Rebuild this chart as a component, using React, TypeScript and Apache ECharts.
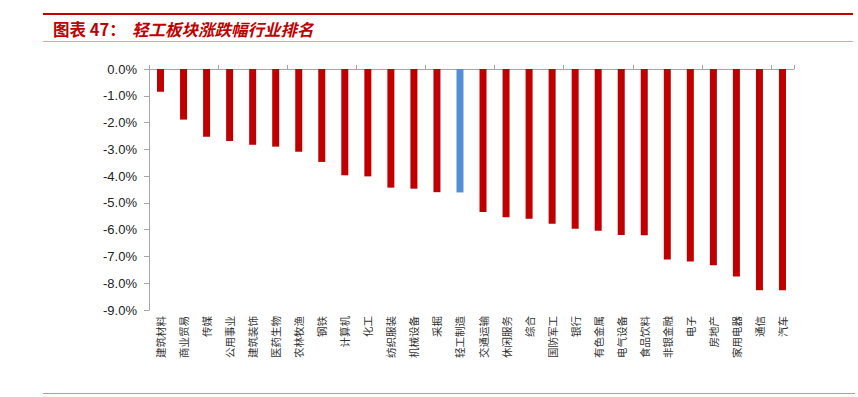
import React, { useEffect, useRef } from "react";
import * as echarts from "echarts";

const categories = [
  "建筑材料", "商业贸易", "传媒", "公用事业", "建筑装饰", "医药生物", "农林牧渔",
  "钢铁", "计算机", "化工", "纺织服装", "机械设备", "采掘", "轻工制造",
  "交通运输", "休闲服务", "综合", "国防军工", "银行", "有色金属", "电气设备",
  "食品饮料", "非银金融", "电子", "房地产", "家用电器", "通信", "汽车",
];

const changes = [
  -0.85, -1.89, -2.53, -2.69, -2.83, -2.9, -3.09,
  -3.47, -3.97, -4.01, -4.43, -4.47, -4.6, -4.61,
  -5.34, -5.54, -5.59, -5.78, -5.97, -6.04, -6.2,
  -6.21, -7.11, -7.19, -7.33, -7.75, -8.26, -8.26,
];

const highlight = "轻工制造";
const titleLabel = "图表 47：";
const titleText = "轻工板块涨跌幅行业排名";

export default function App() {
  const ref = useRef<HTMLDivElement>(null);

  useEffect(() => {
    if (!ref.current) return;
    const chart = echarts.init(ref.current, undefined, { renderer: "svg" });
    const axisColor = "#A6A6A6";
    chart.setOption({
      animation: false,
      backgroundColor: "#ffffff",
      graphic: [
        { type: "rect", shape: { x: 43, y: 13, width: 810, height: 2 }, style: { fill: "#C00000" } },
        { type: "rect", shape: { x: 43, y: 41, width: 810, height: 1 }, style: { fill: "#E8A0A0" } },
        { type: "rect", shape: { x: 43, y: 393, width: 812, height: 1 }, style: { fill: "#D98C8C" } },
        {
          type: "text",
          x: 53,
          y: 29,
          style: {
            text: titleLabel,
            fill: "#C00000",
            font: "bold 16.5px 'Noto Sans CJK SC', sans-serif",
            verticalAlign: "middle",
          },
        },
        {
          type: "text",
          x: 132,
          y: 29,
          style: {
            text: titleText,
            fill: "#C00000",
            font: "italic bold 16.5px 'Noto Sans CJK SC', sans-serif",
            verticalAlign: "middle",
          },
        },
      ],
      grid: { left: 149, top: 69, width: 645, height: 241, containLabel: false },
      xAxis: [
        {
          type: "category",
          position: "top",
          data: categories,
          axisLine: { show: true, onZero: false, lineStyle: { color: axisColor, width: 1 } },
          axisTick: { show: true, length: 4, lineStyle: { color: axisColor } },
          axisLabel: { show: false },
          splitLine: { show: false },
        },
        {
          type: "category",
          position: "bottom",
          data: categories,
          axisLine: { show: false },
          axisTick: { show: false },
          axisLabel: {
            show: true,
            interval: 0,
            rotate: 90,
            margin: 6,
            fontSize: 10.5,
            color: "#333333",
            fontFamily: "'Noto Sans CJK SC', sans-serif",
          },
        },
      ],
      yAxis: {
        type: "value",
        min: -9,
        max: 0,
        interval: 1,
        axisLine: { show: true, lineStyle: { color: axisColor, width: 1 } },
        axisTick: { show: true, length: 5, lineStyle: { color: axisColor } },
        splitLine: { show: false },
        axisLabel: {
          margin: 12,
          fontSize: 13,
          color: "#222222",
          fontFamily: "'Liberation Sans', Arial, sans-serif",
          formatter: (v: number) => v.toFixed(1) + "%",
        },
      },
      series: [
        {
          type: "bar",
          xAxisIndex: 0,
          barWidth: 7,
          data: changes.map((v, i) => ({
            value: v,
            itemStyle: { color: categories[i] === highlight ? "#558ED5" : "#C00000" },
          })),
        },
      ],
    });
    return () => chart.dispose();
  }, []);

  return (
    <div
      ref={ref}
      style={{ position: "fixed", left: 0, top: 0, width: 858, height: 397 }}
    />
  );
}
